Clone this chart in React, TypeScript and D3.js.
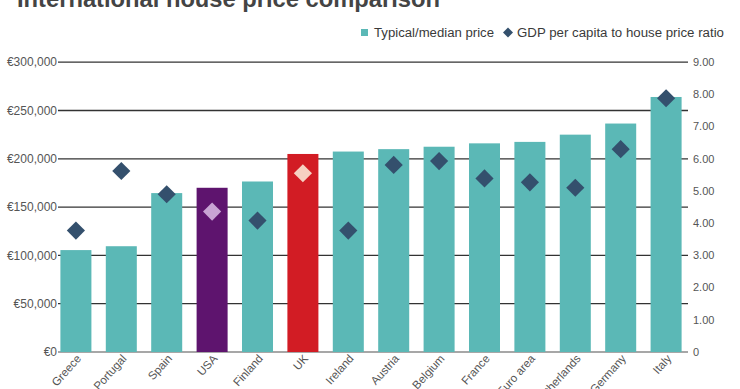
import React from "react";
import * as d3 from "d3";

const categories = ["Greece","Portugal","Spain","USA","Finland","UK","Ireland","Austria","Belgium","France","Euro area","Netherlands","Germany","Italy"];
const prices = [105500,109500,164500,170000,176500,205000,207500,210000,212500,216000,217500,225000,236500,264000];
const ratios = [3.77,5.62,4.90,4.36,4.08,5.55,3.77,5.81,5.93,5.39,5.27,5.10,6.30,7.88];
const leftTicks = [0,50000,100000,150000,200000,250000,300000];
const rightTicks = [0,1,2,3,4,5,6,7,8,9];
const title = "International house price comparison";
const legendLabels = ["Typical/median price","GDP per capita to house price ratio"];

const W = 740, H = 389;
const TEAL = "#5bb8b6";
const DIAMOND = "#34506d";
const barColor = (c: string) => c === "USA" ? "#5e146e" : c === "UK" ? "#d21c24" : TEAL;
const diamondColor = (c: string) => c === "USA" ? "#c8a4d4" : c === "UK" ? "#f6d1c2" : DIAMOND;

export default function App() {
  const x = d3.scaleBand<string>().domain(categories).range([56, 686]).paddingInner(0.317).paddingOuter(0.097);
  const yL = d3.scaleLinear().domain([0, 300000]).range([352, 62.2]);
  const yR = d3.scaleLinear().domain([0, 9]).range([352, 62.2]);
  const fmtL = (v: number) => "€" + d3.format(",")(v);
  const fmtR = (v: number) => v === 0 ? "0" : d3.format(".2f")(v);
  const diamond = d3.symbol().type(d3.symbolSquare).size(165)();
  const legendDiamond = d3.symbol().type(d3.symbolSquare).size(50)();
  const font = "'Liberation Sans', Arial, sans-serif";
  return (
    <svg width={W} height={H} style={{ position: "absolute", left: 0, top: 0, background: "#fff" }} fontFamily={font}>
      <text x={17} y={7} fontSize={23} fontWeight="bold" fill="#444" textLength={423} lengthAdjust="spacingAndGlyphs">{title}</text>
      <g fontSize={12} fill="#3a3a3a">
        <rect x={361} y={29} width={7} height={7} fill={TEAL} />
        <text x={374} y={37} textLength={120} lengthAdjust="spacingAndGlyphs">{legendLabels[0]}</text>
        <path d={legendDiamond!} transform="translate(508,32.5) rotate(45)" fill={DIAMOND} />
        <text x={517} y={37} textLength={207} lengthAdjust="spacingAndGlyphs">{legendLabels[1]}</text>
      </g>
      {leftTicks.map(t => (
        <g key={"l" + t}>
          {t > 0 && <line x1={58} x2={688} y1={yL(t)} y2={yL(t)} stroke="#333" strokeWidth={1.3} />}
          <text x={57} y={yL(t)} dy="0.35em" textAnchor="end" fontSize={12} fill="#555">{fmtL(t)}</text>
        </g>
      ))}
      <line x1={58} x2={688} y1={352} y2={352} stroke="#8a8a8a" strokeWidth={1.5} />
      {rightTicks.map(t => (
        <text key={"r" + t} x={693} y={yR(t)} dy="0.35em" fontSize={11} fill="#555">{fmtR(t)}</text>
      ))}
      {categories.map((c, i) => (
        <rect key={"b" + c} x={x(c)} y={yL(prices[i])} width={x.bandwidth()} height={yL(0) - yL(prices[i])} fill={barColor(c)} />
      ))}
      {categories.map((c, i) => (
        <path key={"d" + c} d={diamond!} transform={`translate(${x(c)! + x.bandwidth() / 2},${yR(ratios[i])}) rotate(45)`} fill={diamondColor(c)} />
      ))}
      {categories.map(c => (
        <text key={"t" + c} transform={`translate(${x(c)! + x.bandwidth() / 2 + 6},359) rotate(-48)`} textAnchor="end" fontSize={11.5} fill="#555">{c}</text>
      ))}
    </svg>
  );
}
